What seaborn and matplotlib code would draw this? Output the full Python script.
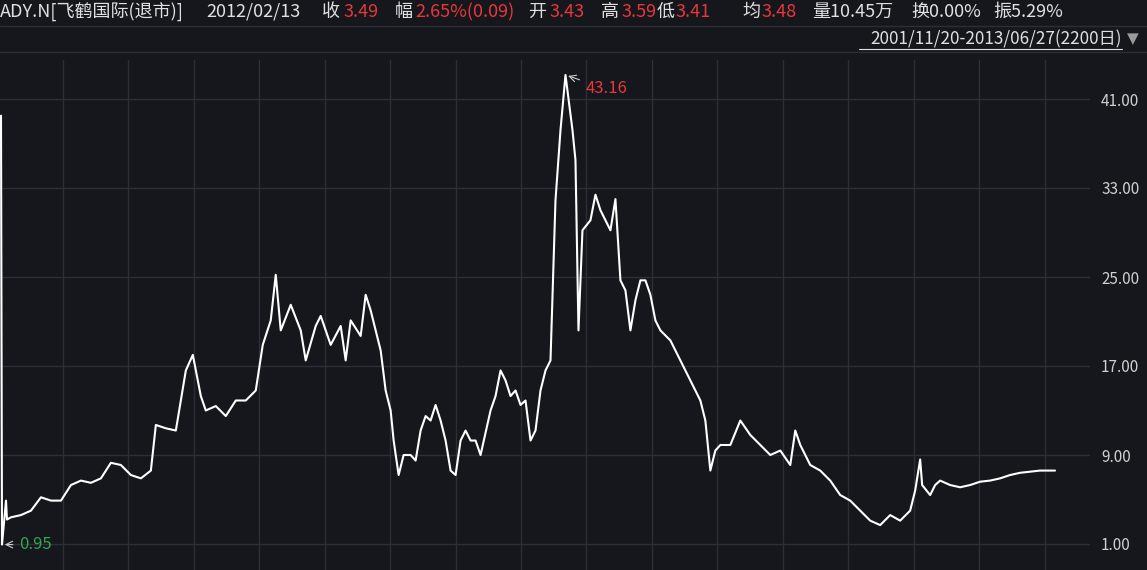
import matplotlib
matplotlib.use("Agg")
import matplotlib.pyplot as plt
import seaborn as sns
import pandas as pd

sns.set_theme(style="dark")
plt.rcParams['font.family'] = ['Noto Sans CJK SC', 'DejaVu Sans']

day = [0,1,5,6,10,20,30,40,50,60,70,80,90,100,110,120,130,140,150,155,165,175,180,185,192,200,205,215,225,235,245,255,262,270,275,280,290,300,305,315,320,330,340,345,350,360,365,370,375,380,385,390,393,398,403,410,415,420,425,430,435,440,445,450,455,460,465,470,475,480,490,495,500,505,510,515,520,525,530,535,540,545,550,555,560,565,568,572,575,578,582,590,595,600,605,610,615,620,625,630,635,640,645,650,655,660,670,680,690,700,705,710,715,720,730,740,750,760,770,780,790,795,800,810,820,830,840,850,860,870,880,890,900,910,915,920,922,930,935,940,950,960,970,980,990,1000,1010,1020,1030,1040,1055]
price = [39.5,0.95,4.9,3.2,3.4,3.6,4.0,5.2,4.9,4.9,6.3,6.7,6.5,6.9,8.3,8.1,7.2,6.9,7.6,11.7,11.4,11.2,13.9,16.6,18.0,14.3,13.0,13.4,12.5,13.9,13.9,14.8,18.9,21.1,25.2,20.2,22.5,20.2,17.5,20.6,21.5,18.9,20.6,17.5,21.1,19.7,23.4,22.0,20.2,18.4,14.8,13.0,10.3,7.2,9.0,9.0,8.5,11.2,12.5,12.1,13.5,12.1,10.3,7.6,7.2,10.3,11.2,10.3,10.3,9.0,13.0,14.3,16.6,15.7,14.3,14.8,13.5,13.9,10.3,11.2,14.8,16.6,17.5,31.9,38.2,43.16,41.0,38.2,35.5,20.2,29.2,30.1,32.4,31.0,30.1,29.2,32.0,24.7,23.8,20.2,22.9,24.7,24.7,23.4,21.1,20.2,19.3,17.5,15.7,13.9,12.1,7.6,9.4,9.9,9.9,12.1,10.8,9.9,9.0,9.4,8.1,11.2,9.9,8.1,7.6,6.7,5.4,4.9,4.0,3.1,2.7,3.6,3.1,4.0,5.8,8.6,6.3,5.4,6.3,6.7,6.3,6.1,6.3,6.6,6.7,6.9,7.2,7.4,7.5,7.6,7.6]
yticks = [1, 9, 17, 25, 33, 41]
ylabels = ["1.00", "9.00", "17.00", "25.00", "33.00", "41.00"]

BG = "#15171c"
GRID = "#2c2f36"
RED = "#e8373c"
fig = plt.figure(figsize=(11.47, 5.70), dpi=100, facecolor=BG)
ax = fig.add_axes([0, 0, 1090/1147, 510/570])
ax.set_facecolor(BG)
df = pd.DataFrame({"day": day, "price": price})
sns.lineplot(data=df, x="day", y="price", ax=ax, color="white", linewidth=1.5)
ax.set_xlim(-1, 1090)
ax.set_ylim(1 - 26*8/89, 1 + 484*8/89)
ax.set_xlabel(""); ax.set_ylabel("")
ax.set_yticks(yticks)
ax.set_yticklabels(ylabels, color="#d0d0d0", fontsize=11)
ax.yaxis.tick_right()
ax.tick_params(axis="y", length=0, pad=8)
ax.set_xticks([62+65.5*i for i in range(16)])
ax.set_xticklabels([])
ax.tick_params(axis="x", length=0)
ax.grid(True, color=GRID, linewidth=1)
for s in ax.spines.values():
    s.set_visible(False)

ax.annotate("43.16", xy=(565, 43.16), xytext=(585, 41.9), color=RED, fontsize=12,
            va="center", arrowprops=dict(arrowstyle="->", color="#cccccc", lw=0.8))
ax.annotate("0.95", xy=(1, 0.95), xytext=(18, 0.95), color="#2fa84f", fontsize=12,
            va="center", arrowprops=dict(arrowstyle="->", color="#cccccc", lw=0.8))

def t(x, s, c="#e0e0e0"):
    fig.text(x/1147, 1-12/570, s, color=c, fontsize=13, va="center", ha="left")
t(0, "ADY.N[飞鹤国际(退市)]")
t(206, "2012/02/13")
t(322, "收"); t(343, "3.49", RED)
t(395, "幅"); t(415, "2.65%(0.09)", RED)
t(528, "开"); t(549, "3.43", RED)
t(601, "高"); t(621, "3.59", RED)
t(657, "低"); t(676, "3.41", RED)
t(742, "均"); t(761, "3.48", RED)
t(812, "量10.45万")
t(911, "换0.00%")
t(993, "振5.29%")
fig.text(1122/1147, 1-39/570, "2001/11/20-2013/06/27(2200日)", color="#e0e0e0",
         fontsize=12.3, va="center", ha="right")
fig.add_artist(plt.Line2D([859/1147, 1122/1147], [1-49/570, 1-49/570], color="#e0e0e0", lw=0.8))
fig.text(1133/1147, 1-39/570, "▼", color="#9a9a9a", fontsize=11, va="center", ha="center",
         family=["DejaVu Sans"])
fig.add_artist(plt.Line2D([0, 1], [1-26/570, 1-26/570], color=GRID, lw=1))
fig.add_artist(plt.Line2D([0, 1], [1-52/570, 1-52/570], color=GRID, lw=1))
fig.savefig("out.png", dpi=100, facecolor=BG)
